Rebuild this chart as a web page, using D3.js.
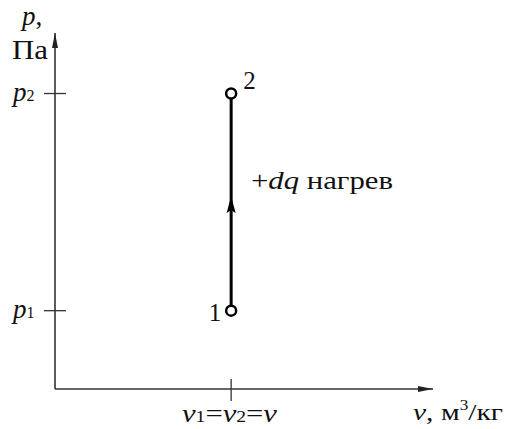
<!doctype html>
<html lang="ru">
<head>
<meta charset="UTF-8">
<title>p-v</title>
<style>
  body { margin: 0; background: #fff; }
  text { font-family: "Liberation Serif", "DejaVu Serif", serif; fill: #111; }
</style>
</head>
<body>
<svg width="508" height="429"></svg>
<script src="https://cdn.jsdelivr.net/npm/d3@7"></script>
<script>
// states of the isochoric process (relative units on the axes)
var stateNames = ['1', '2'];
var stateV = [4.66, 4.66];
var stateP = [2.2, 8.3];
var pTicks = [{ sym: 'p', sub: '1', value: 2.2 }, { sym: 'p', sub: '2', value: 8.3 }];
var vTicks = [4.66];

var svg = d3.select('svg');
var x = d3.scaleLinear().domain([0, 10]).range([55, 433]);
var y = d3.scaleLinear().domain([0, 10]).range([389, 33]);

var defs = svg.append('defs');
defs.append('marker')
    .attr('id', 'ax')
    .attr('viewBox', '0 -5 15 10')
    .attr('refX', 15).attr('refY', 0)
    .attr('markerUnits', 'userSpaceOnUse')
    .attr('markerWidth', 15).attr('markerHeight', 10)
    .attr('orient', 'auto')
    .append('path').attr('d', 'M0,-3L15,0L0,3Z').attr('fill', '#222');
defs.append('marker')
    .attr('id', 'mid')
    .attr('viewBox', '0 -5 17 10')
    .attr('refX', 8).attr('refY', 0)
    .attr('markerUnits', 'userSpaceOnUse')
    .attr('markerWidth', 17).attr('markerHeight', 10)
    .attr('orient', 'auto')
    .append('path').attr('d', 'M0,-4.5L17,0L0,4.5L3,0Z').attr('fill', '#000');

// axes
svg.append('line')
    .attr('x1', x(0)).attr('y1', y(0)).attr('x2', x(0)).attr('y2', y(10))
    .attr('stroke', '#333').attr('stroke-width', 1.6).attr('marker-end', 'url(#ax)');
svg.append('line')
    .attr('x1', x(0)).attr('y1', y(0)).attr('x2', x(10)).attr('y2', y(0))
    .attr('stroke', '#333').attr('stroke-width', 1.6).attr('marker-end', 'url(#ax)');

// ticks on p axis
svg.selectAll('.ptick').data(pTicks).enter().append('line')
    .attr('class', 'ptick')
    .attr('x1', x(0) - 11).attr('x2', x(0) + 11)
    .attr('y1', function(d) { return y(d.value); })
    .attr('y2', function(d) { return y(d.value); })
    .attr('stroke', '#333').attr('stroke-width', 1.3);
var pl = svg.selectAll('.plab').data(pTicks).enter().append('text')
    .attr('class', 'plab')
    .attr('x', 13)
    .attr('y', function(d) { return y(d.value) + 7; })
    .attr('font-size', 27);
pl.append('tspan').attr('font-style', 'italic').text(function(d) { return d.sym; });
pl.append('tspan').attr('font-size', 16).text(function(d) { return d.sub; });

// ticks on v axis
svg.selectAll('.vtick').data(vTicks).enter().append('line')
    .attr('class', 'vtick')
    .attr('x1', function(d) { return x(d); }).attr('x2', function(d) { return x(d); })
    .attr('y1', y(0) - 10).attr('y2', y(0) + 12)
    .attr('stroke', '#333').attr('stroke-width', 1.3);
var vl = svg.append('text').attr('x', 182).attr('y', 422)
    .attr('font-size', 25)
    .attr('textLength', 95).attr('lengthAdjust', 'spacingAndGlyphs');
vl.append('tspan').attr('font-style', 'italic').text('ν');
vl.append('tspan').attr('font-size', 16).text('1');
vl.append('tspan').text('=');
vl.append('tspan').attr('font-style', 'italic').text('ν');
vl.append('tspan').attr('font-size', 16).text('2');
vl.append('tspan').text('=');
vl.append('tspan').attr('font-style', 'italic').text('ν');

// axis titles
var pt = svg.append('text').attr('x', 22).attr('y', 25).attr('font-size', 27);
pt.append('tspan').attr('font-style', 'italic').text('p');
pt.append('tspan').text(',');
svg.append('text').attr('x', 12).attr('y', 59).attr('font-size', 28)
    .attr('textLength', 36).attr('lengthAdjust', 'spacingAndGlyphs').text('Па');
var vt = svg.append('text').attr('x', 413).attr('y', 420).attr('font-size', 24)
    .attr('textLength', 90).attr('lengthAdjust', 'spacingAndGlyphs');
vt.append('tspan').attr('font-style', 'italic').text('ν');
vt.append('tspan').text(',  м');
vt.append('tspan').attr('font-size', 14).attr('dy', -10).text('3');
vt.append('tspan').attr('dy', 10).text('/кг');

// process line 1 -> 2
svg.append('line')
    .attr('x1', x(stateV[0])).attr('y1', y(stateP[0]))
    .attr('x2', x(stateV[1])).attr('y2', y(stateP[1]))
    .attr('stroke', '#000').attr('stroke-width', 3);
svg.append('path')
    .attr('d', d3.line()([[x(stateV[0]), y(stateP[0])],
                          [x(stateV[0]), (y(stateP[0]) + y(stateP[1])) / 2 + 3],
                          [x(stateV[1]), y(stateP[1])]]))
    .attr('fill', 'none').attr('stroke', 'none').attr('marker-mid', 'url(#mid)');

svg.selectAll('.state').data(stateNames).enter().append('circle')
    .attr('class', 'state')
    .attr('cx', function(d, i) { return x(stateV[i]); })
    .attr('cy', function(d, i) { return y(stateP[i]); })
    .attr('r', 5)
    .attr('fill', '#fff').attr('stroke', '#000').attr('stroke-width', 2.5);
svg.selectAll('.slab').data(stateNames).enter().append('text')
    .attr('class', 'slab')
    .attr('x', function(d, i) { return x(stateV[i]) + (i === 0 ? -10 : 12); })
    .attr('y', function(d, i) { return y(stateP[i]) + (i === 0 ? 10 : -5); })
    .attr('text-anchor', function(d, i) { return i === 0 ? 'end' : 'start'; })
    .attr('font-size', 25)
    .text(function(d) { return d; });

var q = svg.append('text').attr('x', 251).attr('y', 189).attr('font-size', 26)
    .attr('textLength', 142).attr('lengthAdjust', 'spacingAndGlyphs');
q.append('tspan').text('+');
q.append('tspan').attr('font-style', 'italic').text('dq');
q.append('tspan').text(' нагрев');
</script>
</body>
</html>
